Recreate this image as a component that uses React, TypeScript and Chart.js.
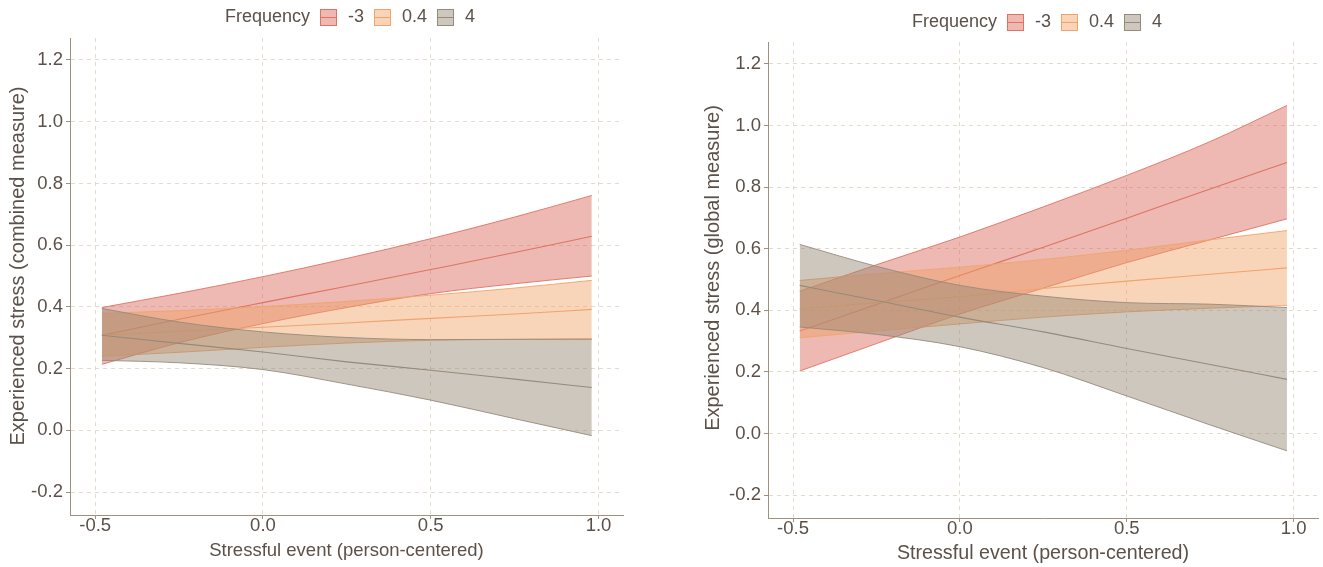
import React, { useEffect, useRef } from "react";
import { Chart, registerables } from "chart.js";

Chart.register(...registerables);

// ---------------- data ----------------
const xValues = [-0.48, -0.25, 0, 0.25, 0.5, 0.75, 0.98];
const groupLabels = ["-3", "0.4", "4"];
const xTickValues = [-0.5, 0, 0.5, 1.0];
const yTickValues = [-0.2, 0, 0.2, 0.4, 0.6, 0.8, 1.0, 1.2];

const legendTitle = "Frequency";
const xAxisTitle = "Stressful event (person-centered)";
const leftYTitle = "Experienced stress (combined measure)";
const rightYTitle = "Experienced stress (global measure)";

// Left panel: combined measure
const combLowUpper = [0.398, 0.444, 0.498, 0.557, 0.621, 0.691, 0.761];
const combLowMean = [0.308, 0.36, 0.414, 0.467, 0.521, 0.576, 0.629];
const combLowLower = [0.214, 0.284, 0.346, 0.398, 0.443, 0.475, 0.5];
const combMidUpper = [0.379, 0.388, 0.401, 0.418, 0.438, 0.461, 0.486];
const combMidMean = [0.308, 0.321, 0.334, 0.348, 0.363, 0.377, 0.392];
const combMidLower = [0.24, 0.253, 0.269, 0.283, 0.292, 0.295, 0.298];
const combHighUpper = [0.395, 0.351, 0.319, 0.301, 0.294, 0.295, 0.295];
const combHighMean = [0.308, 0.282, 0.254, 0.222, 0.195, 0.166, 0.139];
const combHighLower = [0.227, 0.219, 0.197, 0.15, 0.098, 0.038, -0.017];

// Right panel: global measure
const globLowUpper = [0.462, 0.548, 0.638, 0.736, 0.838, 0.948, 1.065];
const globLowMean = [0.333, 0.419, 0.513, 0.605, 0.699, 0.794, 0.88];
const globLowLower = [0.203, 0.292, 0.388, 0.472, 0.555, 0.629, 0.697];
const globMidUpper = [0.497, 0.519, 0.54, 0.565, 0.595, 0.629, 0.659];
const globMidMean = [0.405, 0.425, 0.444, 0.471, 0.495, 0.517, 0.538];
const globMidLower = [0.311, 0.333, 0.356, 0.378, 0.395, 0.407, 0.416];
const globHighUpper = [0.614, 0.543, 0.481, 0.446, 0.425, 0.42, 0.409];
const globHighMean = [0.481, 0.432, 0.378, 0.33, 0.276, 0.224, 0.176];
const globHighLower = [0.346, 0.322, 0.282, 0.214, 0.122, 0.028, -0.056];

// ---------------- styles ----------------
const FONT = "'Liberation Sans', Arial, Helvetica, sans-serif";
const textColor = "#5C5048";
const axisColor = "#A09080";
const gridColor = "#E4DACA";
const lineColors = ["#E07262", "#F0A46C", "#968A7C"];
const fillColors = ["rgba(215,100,85,0.45)", "rgba(240,160,100,0.45)", "rgba(150,135,115,0.47)"];

const X_MIN = -0.575;
const X_MAX = 1.073;
const Y_MIN = -0.274;
const Y_MAX = 1.271;

function pts(arr: number[]) {
  return xValues.map((x, i) => ({ x, y: arr[i] }));
}

function band(upper: number[], mean: number[], lower: number[], gi: number) {
  const base = (3 - gi) * 10;
  const common = {
    pointRadius: 0,
    pointHoverRadius: 0,
    cubicInterpolationMode: "monotone" as const,
    borderColor: lineColors[gi],
  };
  return [
    { ...common, label: groupLabels[gi] + " upper", data: pts(upper), borderWidth: 0.9, backgroundColor: fillColors[gi], fill: "+1", order: base + 3 },
    { ...common, label: groupLabels[gi] + " lower", data: pts(lower), borderWidth: 0.9, fill: false, order: base + 2 },
    { ...common, label: groupLabels[gi], data: pts(mean), borderWidth: 1.1, fill: false, order: base + 1 },
  ];
}

const legendPlugin = {
  id: "freqLegend",
  afterDraw(chart: any, _args: any, opts: any) {
    const ctx = chart.ctx as CanvasRenderingContext2D;
    const { x, y, yTitle, yTitleX, yTitleY, yTitleSize } = opts;
    ctx.save();
    // y-axis title
    ctx.font = `${yTitleSize}px ${FONT}`;
    ctx.fillStyle = textColor;
    ctx.textBaseline = "middle";
    ctx.textAlign = "center";
    ctx.translate(yTitleX, yTitleY);
    ctx.rotate(-Math.PI / 2);
    ctx.fillText(yTitle, 0, 0);
    ctx.setTransform(1, 0, 0, 1, 0, 0);
    // legend
    ctx.font = `18px ${FONT}`;
    ctx.textAlign = "left";
    ctx.fillStyle = textColor;
    ctx.fillText(legendTitle, x, y);
    let cx = x + ctx.measureText(legendTitle).width + 10;
    groupLabels.forEach((lab, i) => {
      const bx = Math.round(cx);
      const by = Math.round(y - 8.5);
      ctx.fillStyle = fillColors[i];
      ctx.fillRect(bx, by, 17, 17);
      ctx.strokeStyle = lineColors[i];
      ctx.lineWidth = 1;
      ctx.strokeRect(bx + 0.5, by + 0.5, 16, 16);
      ctx.beginPath();
      ctx.moveTo(bx + 0.5, by + 8.5);
      ctx.lineTo(bx + 16.5, by + 8.5);
      ctx.stroke();
      cx += 17 + 11;
      ctx.fillStyle = textColor;
      ctx.fillText(lab, cx, y);
      cx += ctx.measureText(lab).width + 10;
    });
    ctx.restore();
  },
};

function makeConfig(p: {
  datasets: any[];
  yTitle: string;
  yTitleX: number;
  yTitleY: number;
  yWidth: number;
  padLeft: number;
  padRight: number;
  padTop: number;
  xHeight: number;
  xTitleSize: number;
  xTitlePadBottom: number;
  legendX: number;
  legendY: number;
}) {
  return {
    type: "line",
    data: { datasets: p.datasets },
    plugins: [legendPlugin],
    options: {
      responsive: false,
      animation: false,
      events: [],
      layout: { padding: { left: p.padLeft, right: p.padRight, top: p.padTop, bottom: 0 } },
      plugins: {
        legend: { display: false },
        tooltip: { enabled: false },
        freqLegend: {
          x: p.legendX,
          y: p.legendY,
          yTitle: p.yTitle,
          yTitleX: p.yTitleX,
          yTitleY: p.yTitleY,
          yTitleSize: 20,
        },
        filler: { propagate: false },
      },
      scales: {
        x: {
          type: "linear",
          min: X_MIN,
          max: X_MAX,
          afterBuildTicks: (s: any) => {
            s.ticks = xTickValues.map((v) => ({ value: v }));
          },
          afterFit: (s: any) => {
            s.height = p.xHeight;
          },
          ticks: {
            color: textColor,
            font: { family: FONT, size: 18.5 },
            padding: -4,
            maxRotation: 0,
            callback: (v: any) => Number(v).toFixed(1),
          },
          grid: {
            color: gridColor,
            lineWidth: 1,
            drawTicks: true,
            tickLength: 4,
            tickColor: axisColor,
            tickWidth: 1,
            tickBorderDash: [],
          },
          border: { display: true, color: axisColor, width: 1, dash: [4, 4] },
          title: {
            display: true,
            text: xAxisTitle,
            color: textColor,
            font: { family: FONT, size: p.xTitleSize },
            padding: { top: 0, bottom: p.xTitlePadBottom },
          },
        },
        y: {
          type: "linear",
          min: Y_MIN,
          max: Y_MAX,
          afterBuildTicks: (s: any) => {
            s.ticks = yTickValues.map((v) => ({ value: v }));
          },
          afterFit: (s: any) => {
            s.width = p.yWidth;
          },
          ticks: {
            color: textColor,
            font: { family: FONT, size: 18.5 },
            padding: 3,
            callback: (v: any) => Number(v).toFixed(1),
          },
          grid: {
            color: gridColor,
            lineWidth: 1,
            drawTicks: true,
            tickLength: 4,
            tickColor: axisColor,
            tickWidth: 1,
            tickBorderDash: [],
          },
          border: { display: true, color: axisColor, width: 1, dash: [4, 4] },
          title: { display: false },
        },
      },
    },
  } as any;
}

function Panel(props: { width: number; height: number; left: number; config: any }) {
  const ref = useRef<HTMLCanvasElement | null>(null);
  useEffect(() => {
    if (!ref.current) return;
    const chart = new Chart(ref.current, props.config);
    return () => chart.destroy();
  }, []);
  return (
    <canvas
      ref={ref}
      width={props.width}
      height={props.height}
      style={{ position: "absolute", left: props.left, top: 0, width: props.width, height: props.height }}
    />
  );
}

export default function App() {
  useEffect(() => {
    document.body.style.margin = "0";
  }, []);

  const leftDatasets = [
    ...band(combLowUpper, combLowMean, combLowLower, 0),
    ...band(combMidUpper, combMidMean, combMidLower, 1),
    ...band(combHighUpper, combHighMean, combHighLower, 2),
  ];
  const rightDatasets = [
    ...band(globLowUpper, globLowMean, globLowLower, 0),
    ...band(globMidUpper, globMidMean, globMidLower, 1),
    ...band(globHighUpper, globHighMean, globHighLower, 2),
  ];

  const leftConfig = makeConfig({
    datasets: leftDatasets,
    yTitle: leftYTitle,
    yTitleX: 18,
    yTitleY: 266,
    yWidth: 70,
    padLeft: 0,
    padRight: 37,
    padTop: 38,
    xHeight: 52,
    xTitleSize: 18.5,
    xTitlePadBottom: 5,
    legendX: 225,
    legendY: 17,
  });
  const rightConfig = makeConfig({
    datasets: rightDatasets,
    yTitle: rightYTitle,
    yTitleX: 53,
    yTitleY: 268,
    yWidth: 73,
    padLeft: 35,
    padRight: 5,
    padTop: 42,
    xHeight: 49,
    xTitleSize: 19.7,
    xTitlePadBottom: 2,
    legendX: 252,
    legendY: 22,
  });

  return (
    <div style={{ position: "relative", width: 1323, height: 567, background: "#fff", overflow: "hidden" }}>
      <Panel width={660} height={567} left={0} config={leftConfig} />
      <Panel width={663} height={567} left={660} config={rightConfig} />
    </div>
  );
}
